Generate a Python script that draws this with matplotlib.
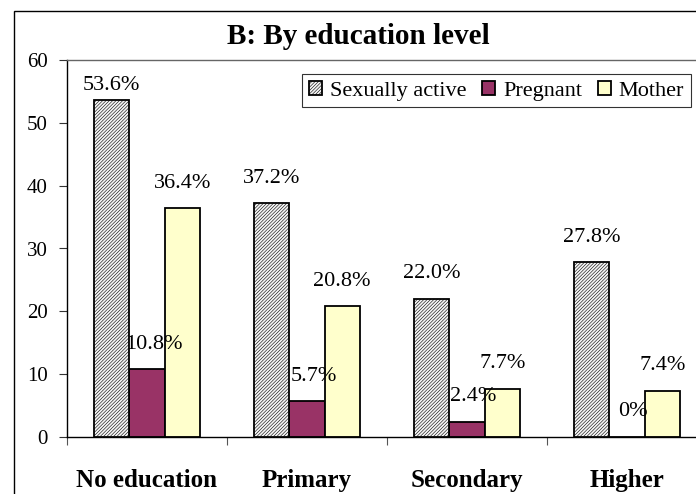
import matplotlib
matplotlib.use("Agg")
import matplotlib.pyplot as plt
import matplotlib.patches as mpatches
import numpy as np

categories = ["No education", "Primary", "Secondary", "Higher"]
series_names = ["Sexually active", "Pregnant", "Mother"]
sexually_active = [53.6, 37.2, 22.0, 27.8]
pregnant = [10.8, 5.7, 2.4, 0.0]
mother = [36.4, 20.8, 7.7, 7.4]
labels_sa = ["53.6%", "37.2%", "22.0%", "27.8%"]
labels_pr = ["10.8%", "5.7%", "2.4%", "0%"]
labels_mo = ["36.4%", "20.8%", "7.7%", "7.4%"]
yticks = [0, 10, 20, 30, 40, 50, 60]

plt.rcParams['font.family'] = ['Liberation Serif', 'DejaVu Serif']
plt.rcParams['hatch.linewidth'] = 0.4
plt.rcParams['hatch.color'] = '#ababab'

W, H = 696, 494
fig = plt.figure(figsize=(W/100, H/100), dpi=100)
ax = fig.add_axes([67/W, (H-437)/H, (707-67)/W, (437-60)/H])

# outer chart border
fig.patches.append(mpatches.Rectangle((14/W, -0.1), 1.0, (H-11)/H + 0.1,
                                      transform=fig.transFigure, fill=False,
                                      edgecolor='black', linewidth=1.0, zorder=0))

x = np.arange(len(categories))
w = 0.22
offsets = [-w, 0, w]
series = [sexually_active, pregnant, mother]
labs = [labels_sa, labels_pr, labels_mo]
styles = [dict(facecolor='#f4f4f4', hatch='//////////', zorder=4),
          dict(facecolor='#993366', zorder=2),
          dict(facecolor='#FFFFCC', zorder=2)]
label_dx = [0.0, 0.04, 0.0]

handles = []
for s, off, st, lab, name, dx in zip(series, offsets, styles, labs, series_names, label_dx):
    bars = ax.bar(x + off, s, width=w, edgecolor='black', linewidth=1.3, label=name, **st)
    handles.append(bars)
    for xi, v, t in zip(x, s, lab):
        ypos = min(v + 4.0, 56.0)
        ax.text(xi + off + dx, ypos, t, ha='center', va='center', fontsize=16, zorder=3)

ax.set_xlim(-0.5, 3.5)
ax.set_ylim(0, 60)
ax.set_yticks(yticks)
ax.set_yticklabels([str(v) for v in yticks], fontsize=15)
ax.set_xticks(x)
ax.set_xticklabels(categories, fontsize=18, fontweight='bold')
ax.set_xticks(np.arange(-0.5, 4.0, 1.0), minor=True)
ax.tick_params(axis='x', which='major', length=0, pad=23)
ax.tick_params(axis='x', which='minor', length=6, direction='out', width=0.8, color='#555555')
ax.tick_params(axis='y', length=6, direction='out', width=0.8, pad=8, color='#333333')

for sp in ['left', 'bottom']:
    ax.spines[sp].set_color('black')
    ax.spines[sp].set_linewidth(1.0)
ax.spines['top'].set_color('#666666')
ax.spines['top'].set_linewidth(1.0)
ax.spines['right'].set_visible(False)

fig.text(358/W, 1 - 36/H, "B: By education level", ha='center', va='center',
         fontsize=21, fontweight='bold')

leg = ax.legend(loc='upper left', bbox_to_anchor=(302/W, 1 - 74/H), bbox_transform=fig.transFigure,
                ncol=3, fontsize=16, frameon=True, fancybox=False, edgecolor='black',
                handlelength=0.6, handleheight=0.6, handletextpad=0.35, columnspacing=0.7,
                borderpad=0.3, borderaxespad=0)
leg.get_frame().set_linewidth(0.8)
leg.set_zorder(10)

fig.savefig("out.png", dpi=100)
